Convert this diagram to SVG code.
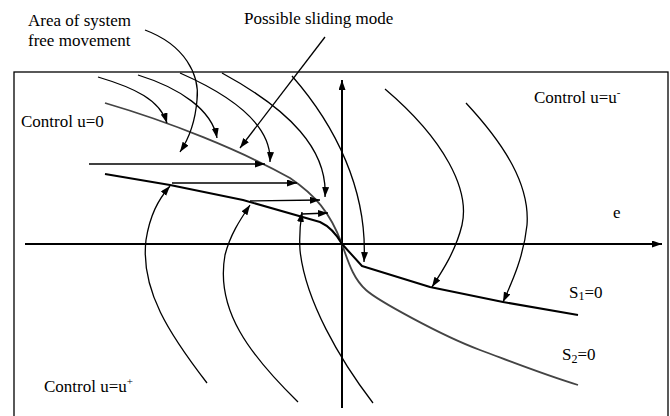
<svg xmlns="http://www.w3.org/2000/svg" width="670" height="416" viewBox="0 0 670 416">
<defs>
<marker id="ah" markerUnits="userSpaceOnUse" markerWidth="11" markerHeight="8" refX="10" refY="3.5" orient="auto">
<path d="M0,0 L10,3.5 L0,7 z" fill="#000"/>
</marker>
<style>
.t{font-family:"Liberation Serif","Times New Roman",serif;font-size:17px;fill:#000}
.c{fill:none;stroke:#000;stroke-width:1.3}
.a{marker-end:url(#ah)}
.ax{fill:none;stroke:#000;stroke-width:2}
.s1{fill:none;stroke:#000;stroke-width:2;stroke-linejoin:round}
.s2{fill:none;stroke:#444;stroke-width:1.8}
</style>
</defs>
<rect width="670" height="416" fill="#fff"/>
<g id="frame"><rect x="14" y="72" width="654" height="350" fill="none" stroke="#000" stroke-width="1.3"/></g>
<g id="axes">
<line class="ax a" x1="25" y1="244" x2="662" y2="244"/>
<line class="ax a" x1="342" y1="408" x2="342" y2="80"/>
</g>
<g id="surfaces">
<path id="S2" class="s2" d="M105,103 C170,122 240,150 290,178 C315,195 330,212 342,244 C350,268 355,280 366,290 S440,335 480,350 S545,375 578,385"/>
<path id="S1" class="s1" d="M105,174 L170,185 L243,200 L320,222 Q333,228 342,244 L362,266 L430,287 L503,302 L578,315"/>
</g>
<g id="connectors">
<path class="c a" d="M98,77 C135,88 160,100 167,123"/>
<path class="c a" d="M138,75 C180,88 212,110 217,138"/>
<path class="c a" d="M180,73 C230,95 272,125 270,162"/>
<path class="c a" d="M222,73 C290,110 328,150 325,197"/>
<path class="c a" d="M292,76 C335,125 368,190 364,262"/>
<path class="c a" d="M385,89 C445,140 470,190 462,225 C456,250 443,270 432,287"/>
<path class="c a" d="M466,103 C505,145 530,185 527,225 C524,255 513,280 503,302"/>
<path class="c a" d="M207,383 C170,335 140,290 146,240 C150,215 158,200 170,186"/>
<path class="c a" d="M298,402 C250,355 215,310 225,255 C230,235 240,220 250,205"/>
<path class="c a" d="M373,403 C340,360 305,300 300,250 C299,235 300,225 302,212"/>
<line class="c a" x1="89" y1="164" x2="265" y2="164"/>
<line class="c a" x1="172" y1="183" x2="297" y2="183"/>
<line class="c a" x1="250" y1="201" x2="320" y2="200"/>
<line class="c a" x1="302" y1="214" x2="328" y2="213"/>
<path class="c a" d="M145,30 C185,45 200,75 197,100 C195,125 188,140 180,152"/>
<line class="c a" x1="325" y1="37" x2="240" y2="148"/>
</g>
<g id="labels">
<text class="t" x="28" y="26">Area of system</text>
<text class="t" x="28" y="46">free movement</text>
<text class="t" x="244" y="24">Possible sliding mode</text>
<text class="t" x="21" y="127">Control u=0</text>
<text class="t" x="534" y="103">Control u=u<tspan font-size="11" dy="-7">-</tspan></text>
<text class="t" x="613" y="218">e</text>
<text class="t" x="569" y="298">S<tspan font-size="12" dy="2">1</tspan><tspan dy="-2">=0</tspan></text>
<text class="t" x="562" y="360">S<tspan font-size="12" dy="3">2</tspan><tspan dy="-3">=0</tspan></text>
<text class="t" x="44" y="392">Control u=u<tspan font-size="11" dy="-7">+</tspan></text>
</g>
</svg>
